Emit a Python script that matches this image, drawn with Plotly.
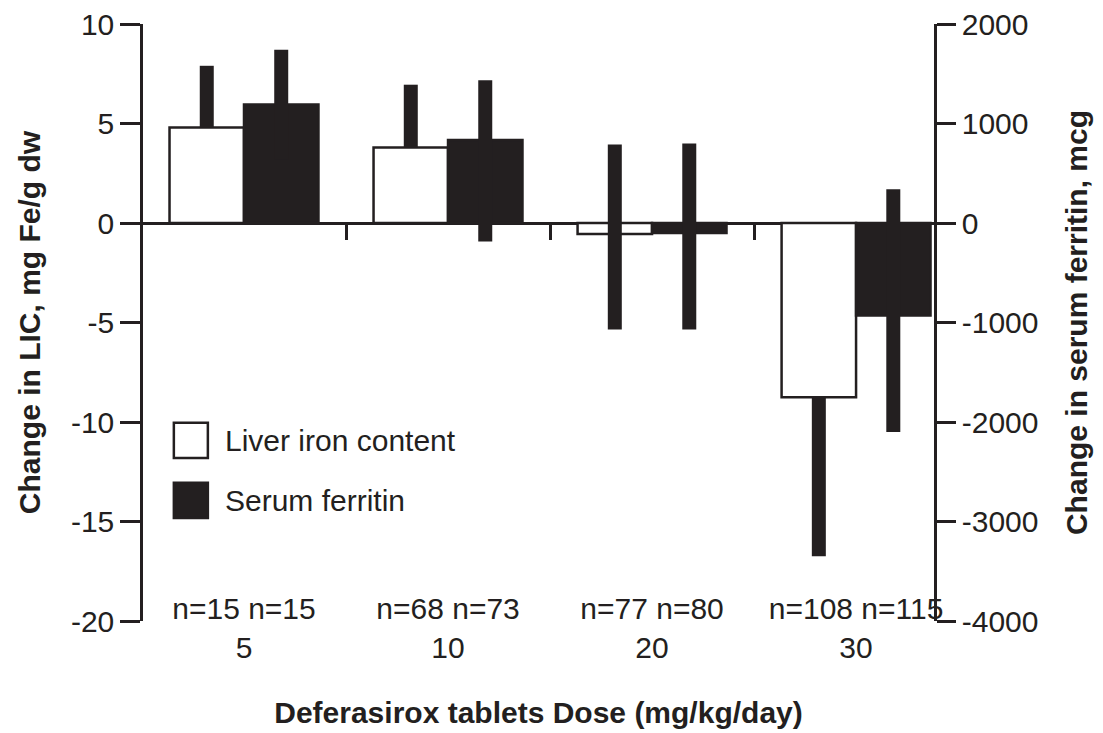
import plotly.graph_objects as go

# ---- data ----
doses = ["5", "10", "20", "30"]
n_liver = [15, 68, 77, 108]
n_serum = [15, 73, 80, 115]
liver_change = [4.8, 3.8, -0.55, -8.75]          # mg Fe/g dw
liver_err_plus = [3.1, 3.15, 4.5, 0.0]
liver_err_minus = [0.0, 0.0, 4.8, 8.0]
serum_change = [1190, 835, -100, -930]           # mcg
serum_err_plus = [550, 600, 900, 1270]
serum_err_minus = [550, 1020, 970, 1170]
left_ticks = [-20, -15, -10, -5, 0, 5, 10]
right_ticks = [-4000, -3000, -2000, -1000, 0, 1000, 2000]
series_names = ["Liver iron content", "Serum ferritin"]

# ---- styling ----
FONT = "Liberation Sans, Arial, sans-serif"
FS = 30
INK = "#231f20"
BAR_W = 0.365
y_range = [-20, 10]
y2_range = [-4000, 2000]
zero_pos = (0 - y_range[0]) / (y_range[1] - y_range[0])
fills = ["white", INK]

tick_text = [f"n={a} n={b}<br>{d}" for a, b, d in zip(n_liver, n_serum, doses)]

fig = go.Figure()
fig.add_trace(go.Bar(
    name=series_names[0], x=doses, y=liver_change, yaxis="y",
    width=BAR_W, offset=-BAR_W, showlegend=False,
    marker=dict(color=fills[0], line=dict(color=INK, width=2.5)),
    error_y=dict(type="data", symmetric=False, array=liver_err_plus,
                 arrayminus=liver_err_minus, color=INK, thickness=14, width=0),
))
fig.add_trace(go.Bar(
    name=series_names[1], x=doses, y=serum_change, yaxis="y2",
    width=BAR_W, offset=0, showlegend=False,
    marker=dict(color=fills[1], line=dict(color=INK, width=2.5)),
    error_y=dict(type="data", symmetric=False, array=serum_err_plus,
                 arrayminus=serum_err_minus, color=INK, thickness=14, width=0),
))

# ---- legend (large square swatches, as in the reference) ----
LEG_X0, LEG_SW, LEG_Y0, LEG_STEP, LEG_H = 0.039, 0.043, 0.332, 0.1005, 0.059
for i, (name, fill) in enumerate(zip(series_names, fills)):
    top = LEG_Y0 - i * LEG_STEP
    fig.add_shape(type="rect", xref="paper", yref="paper",
                  x0=LEG_X0, x1=LEG_X0 + LEG_SW, y0=top - LEG_H, y1=top,
                  fillcolor=fill, line=dict(color=INK, width=2.5))
    fig.add_annotation(xref="paper", yref="paper", x=LEG_X0 + LEG_SW + 0.019,
                       y=top - LEG_H / 2, text=name, showarrow=False,
                       xanchor="left", yanchor="middle",
                       font=dict(size=FS, color=INK))

axis_common = dict(
    showgrid=False, ticks="outside", tickwidth=2.5, tickcolor=INK,
    showline=True, linewidth=2.5, linecolor=INK, automargin=False,
)

fig.update_layout(
    width=1103, height=733,
    margin=dict(l=143, r=169, t=24, b=112),
    plot_bgcolor="white", paper_bgcolor="white",
    font=dict(family=FONT, size=FS, color=INK),
    barmode="overlay",
    showlegend=False,
    xaxis=dict(
        type="category", range=[-0.495, 3.382],
        anchor="free", position=zero_pos,
        tickmode="array", tickvals=doses, ticktext=tick_text, tickangle=0,
        tickson="boundaries", ticks="outside", ticklen=16, tickwidth=2.5,
        tickcolor=INK, showline=False, showgrid=False, zeroline=False,
        ticklabelstandoff=365, automargin=False,
        title=dict(text="Deferasirox tablets Dose (mg/kg/day)",
                   font=dict(size=FS, weight="bold"), standoff=38),
    ),
    yaxis=dict(
        range=y_range, tickmode="array", tickvals=left_ticks,
        ticktext=[str(v) for v in left_ticks], ticklen=20,
        zeroline=True, zerolinecolor=INK, zerolinewidth=2.5,
        title=dict(text="Change in LIC, mg Fe/g dw",
                   font=dict(size=FS, weight="bold"), standoff=22),
        **axis_common,
    ),
    yaxis2=dict(
        range=y2_range, overlaying="y", side="right",
        tickmode="array", tickvals=right_ticks,
        ticktext=[str(v) for v in right_ticks], ticklen=19,
        zeroline=False,
        title=dict(text="Change in serum ferritin, mcg",
                   font=dict(size=FS, weight="bold"), standoff=29),
        **axis_common,
    ),
)

fig.write_html("out.html", config={"displayModeBar": False},
               post_script="document.body.style.margin='0';")
